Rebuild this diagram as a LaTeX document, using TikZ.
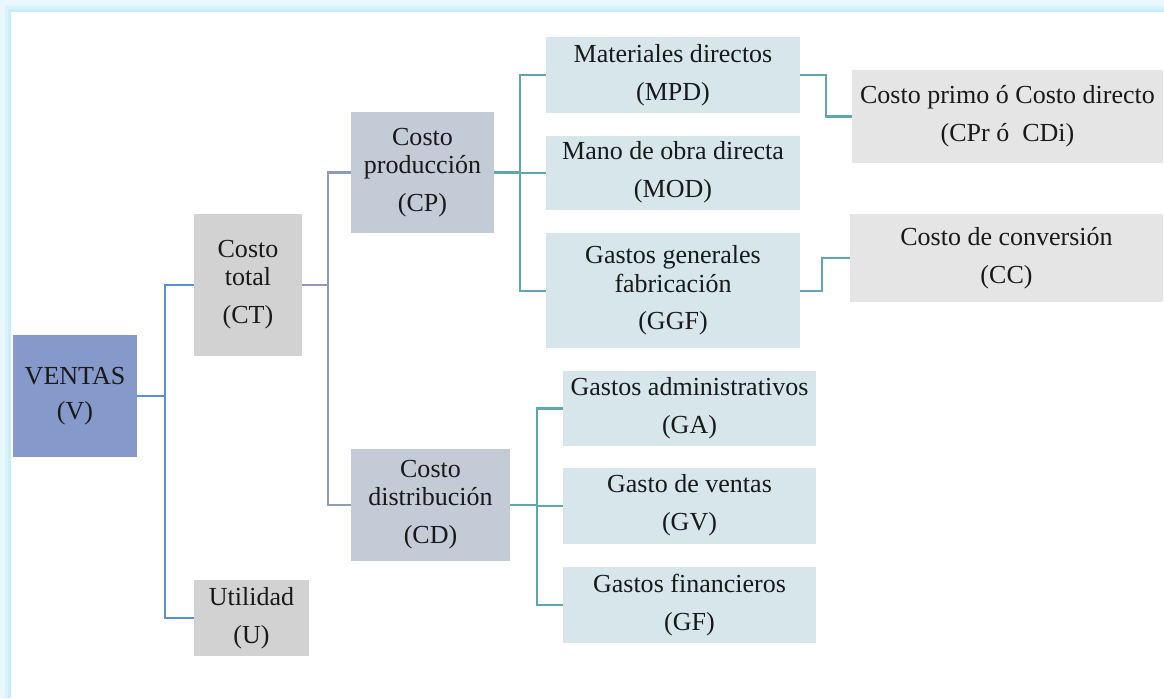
\documentclass[tikz,border=0pt]{standalone}
\usepackage{fontspec}
\setmainfont{Liberation Serif}
\usetikzlibrary{positioning,calc}
\definecolor{ventasblu}{HTML}{8699CB}
\definecolor{grigiott}{HTML}{D1D2D1}
\definecolor{grigioblu}{HTML}{C2CBD6}
\definecolor{azzurrino}{HTML}{D6E6EA}
\definecolor{grigiochiaro}{HTML}{E5E5E5}
\definecolor{lineablu}{HTML}{5B8FCF}
\definecolor{lineagrigia}{HTML}{8E9BBA}
\definecolor{lineaverde}{HTML}{5FA7AD}
\definecolor{alone}{HTML}{C9EEFB}

\begin{document}
\begin{tikzpicture}
  [x=0.025cm, y=-0.025cm,
  voce/.style 2 args={
    rectangle,
    align=center,
    inner sep=2pt,
    minimum width=#1,
    minimum height=#2,
    text=black!90,
    font=\fontsize{18.5}{20}\selectfont
    },
  ramo/.style={line width=1.5pt}
  ]
  % cornice
  \useasboundingbox (0,0) rectangle (1164,698);
  \fill[alone!40] (0,0) rectangle (1164,698);
  \fill[alone!70] (5,6) rectangle (1164,698);
  \fill[alone] (8,9) rectangle (1164,698);
  \fill[white] (11,12) rectangle (1164,698);

  \node[voce={3.1cm}{3.05cm}, fill=ventasblu] (ventas) at (75,396) {VENTAS\\[5pt](V)};

  \node[voce={2.7cm}{3.55cm}, fill=grigiott] (costototale) at (248,285) {Costo\\total\\[7pt](CT)};
  \node[voce={2.875cm}{1.9cm}, fill=grigiott] (utilita) at (251.5,618) {Utilidad\\[7pt](U)};

  \node[voce={3.575cm}{3.025cm}, fill=grigioblu] (produzione) at (422.5,172.5) {Costo\\producción\\[7pt](CP)};
  \node[voce={3.975cm}{2.8cm}, fill=grigioblu] (distribuzione) at (430.5,505) {Costo\\distribución\\[7pt](CD)};

  \node[voce={6.35cm}{1.9cm}, fill=azzurrino] (materiali) at (673,75) {Materiales directos\\[7pt](MPD)};
  \node[voce={6.35cm}{1.85cm}, fill=azzurrino, below=0.55cm of materiali] (manodopera) {Mano de obra directa\\[7pt](MOD)};
  \node[voce={6.35cm}{2.875cm}, fill=azzurrino, below=0.575cm of manodopera] (generali) {Gastos generales\\fabricación\\[7pt](GGF)};

  \node[voce={6.325cm}{1.875cm}, fill=azzurrino] (amministrativi) at (689.5,408.5) {Gastos administrativos\\[7pt](GA)};
  \node[voce={6.325cm}{1.9cm}, fill=azzurrino, below=0.525cm of amministrativi] (vendite) {Gasto de ventas\\[7pt](GV)};
  \node[voce={6.325cm}{1.9cm}, fill=azzurrino, below=0.575cm of vendite] (finanziari) {Gastos financieros\\[7pt](GF)};

  \node[voce={7.775cm}{2.325cm}, fill=grigiochiaro] (primo) at (1007.5,116.5) {Costo primo ó Costo directo\\[7pt](CPr ó~ CDi)};
  \node[voce={7.825cm}{2.2cm}, fill=grigiochiaro] (conversione) at (1006.5,258) {Costo de conversión\\[7pt](CC)};

  % rami
  \draw[ramo, lineablu] (ventas.east) -- ++(28,0) |- (costototale.west);
  \draw[ramo, lineablu] (ventas.east) -- ++(28,0) |- (utilita.west);

  \draw[ramo, lineagrigia] (costototale.east) -- ++(26,0) |- (produzione.west);
  \draw[ramo, lineagrigia] (costototale.east) -- ++(26,0) |- (distribuzione.west);

  \draw[ramo, lineaverde] (produzione.east) -- ++(26,0) |- (materiali.west);
  \draw[ramo, lineaverde] (produzione.east) -- ++(26,0) |- (manodopera.west);
  \draw[ramo, lineaverde] (produzione.east) -- ++(26,0) |- (generali.west);

  \draw[ramo, lineaverde] (distribuzione.east) -- ++(27,0) |- (amministrativi.west);
  \draw[ramo, lineaverde] (distribuzione.east) -- ++(27,0) |- (vendite.west);
  \draw[ramo, lineaverde] (distribuzione.east) -- ++(27,0) |- (finanziari.west);

  \draw[ramo, lineaverde] (materiali.east) -- ++(26,0) |- (primo.west);
  \draw[ramo, lineaverde] (generali.east) -- ++(22,0) |- (conversione.west);
\end{tikzpicture}
\end{document}
